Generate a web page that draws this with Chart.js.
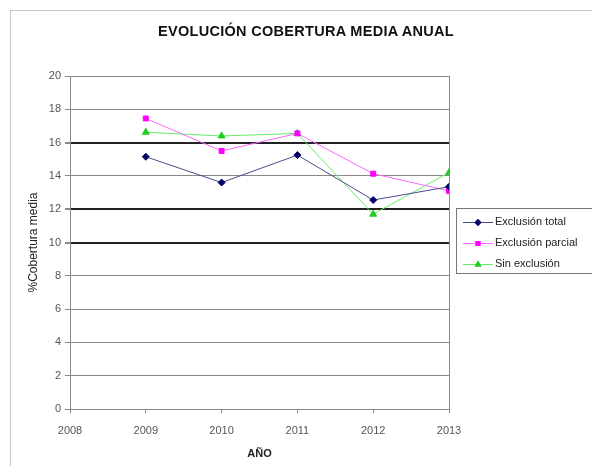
<!DOCTYPE html>
<html>
<head>
<meta charset="utf-8">
<script src="https://cdn.jsdelivr.net/npm/chart.js@4/dist/chart.umd.min.js"></script>
<style>
  body { margin: 0; padding: 0; background: #fff; font-family: "Liberation Sans", Arial, sans-serif; }
  #wrap { position: relative; width: 592px; height: 466px; overflow: hidden; }
  #frame { position: absolute; left: 10px; top: 10px; width: 700px; height: 600px; border: 1px solid #c8c8c8; }
  #title { position: absolute; left: 106px; width: 400px; top: 23px; text-align: center; font-size: 14.5px; font-weight: bold; color: #111; letter-spacing: 0.3px; }
  #legend { position: absolute; left: 456px; top: 208px; width: 160px; height: 64px; border: 1px solid #777; background: #fff; }
  .row { position: absolute; left: 6px; height: 14px; font-size: 11px; color: #222; line-height: 14px; white-space: nowrap; }
  .row canvas { vertical-align: middle; margin-right: 2px; }
</style>
</head>
<body>
<div id="wrap">
  <div id="frame"></div>
  <canvas id="myChart" width="592" height="466" style="position:absolute;left:0;top:0"></canvas>
  <div id="title">EVOLUCIÓN COBERTURA MEDIA ANUAL</div>
  <div id="legend"></div>
</div>
<script>
// Data
const years = [2009, 2010, 2011, 2012, 2013];
const exclusionTotal = [15.15, 13.6, 15.25, 12.55, 13.35];
const exclusionParcial = [17.45, 15.5, 16.55, 14.13, 13.1];
const sinExclusion = [16.62, 16.4, 16.55, 11.7, 14.2];
const seriesNames = ['Exclusión total', 'Exclusión parcial', 'Sin exclusión'];
const yTicks = [0, 2, 4, 6, 8, 10, 12, 14, 16, 18, 20];
const xTicks = [2008, 2009, 2010, 2011, 2012, 2013];

// gridlines that look darker in the original
const darkLines = [16, 12, 10];

function toPoints(values) {
  return years.map((yr, i) => ({ x: yr, y: values[i] }));
}

const styles = [
  { line: '#4a4a8a', point: '#000066', shape: 'rectRot', r: 3.5 },
  { line: '#ff66ff', point: '#ff00ff', shape: 'rect', r: 3.5 },
  { line: '#66ee66', point: '#22cc22', shape: 'triangle', r: 4 }
];

const allSeries = [exclusionTotal, exclusionParcial, sinExclusion];

const datasets = allSeries.map((vals, i) => ({
  label: seriesNames[i],
  data: toPoints(vals),
  borderColor: styles[i].line,
  borderWidth: 1,
  backgroundColor: styles[i].point,
  pointBackgroundColor: styles[i].point,
  pointBorderColor: styles[i].point,
  pointStyle: styles[i].shape,
  pointRadius: styles[i].r,
  pointBorderWidth: 1,
  tension: 0
}));

const tickFont = { family: '"Liberation Sans", Arial, sans-serif', size: 11 };

const ctx = document.getElementById('myChart').getContext('2d');
const chart = new Chart(ctx, {
  type: 'line',
  data: { datasets: datasets },
  options: {
    responsive: false,
    animation: false,
    layout: { padding: { top: 76, left: 0, right: 143, bottom: 0 } },
    plugins: {
      legend: { display: false },
      tooltip: { enabled: false },
      title: { display: false }
    },
    scales: {
      x: {
        type: 'linear',
        min: 2008,
        max: 2013,
        afterBuildTicks: s => { s.ticks = xTicks.map(v => ({ value: v })); },
        afterFit: s => { s.height = 57; },
        ticks: { color: '#555', font: tickFont, padding: 11, callback: v => String(v), maxRotation: 0 },
        grid: {
          color: c => (c.tick && c.tick.value === 2013 ? '#888' : 'rgba(0,0,0,0)'),
          tickColor: '#888',
          tickLength: 4
        },
        border: { color: '#888' },
        title: {
          display: true,
          text: 'AÑO',
          color: '#222',
          font: { family: '"Liberation Sans", Arial, sans-serif', size: 11, weight: 'bold' },
          padding: { top: 4, bottom: 5 }
        }
      },
      y: {
        min: 0,
        max: 20,
        afterBuildTicks: s => { s.ticks = yTicks.map(v => ({ value: v })); },
        afterFit: s => { s.width = 70; },
        ticks: { color: '#555', font: tickFont, padding: 4 },
        grid: {
          color: c => (darkLines.includes(c.tick.value) ? '#222' : '#888'),
          lineWidth: c => (darkLines.includes(c.tick.value) ? 2 : 1),
          tickColor: '#888',
          tickLength: 5
        },
        border: { color: '#888' },
        title: {
          display: true,
          text: '%Cobertura media',
          color: '#222',
          font: { family: '"Liberation Sans", Arial, sans-serif', size: 12 },
          padding: { top: 26, bottom: 0 }
        }
      }
    }
  }
});

// HTML legend built from the datasets
const legend = document.getElementById('legend');
datasets.forEach((ds, i) => {
  const row = document.createElement('div');
  row.className = 'row';
  row.style.top = (5 + i * 21) + 'px';
  const sw = document.createElement('canvas');
  sw.width = 30; sw.height = 10;
  const g = sw.getContext('2d');
  g.strokeStyle = styles[i].line;
  g.lineWidth = 1;
  g.beginPath(); g.moveTo(0, 5.5); g.lineTo(30, 5.5); g.stroke();
  g.fillStyle = styles[i].point;
  Chart.helpers.drawPoint(g, { pointStyle: styles[i].shape, radius: styles[i].r, borderWidth: 0 }, 15, 5.5);
  g.fill();
  row.appendChild(sw);
  row.appendChild(document.createTextNode(ds.label));
  legend.appendChild(row);
});
</script>
</body>
</html>
